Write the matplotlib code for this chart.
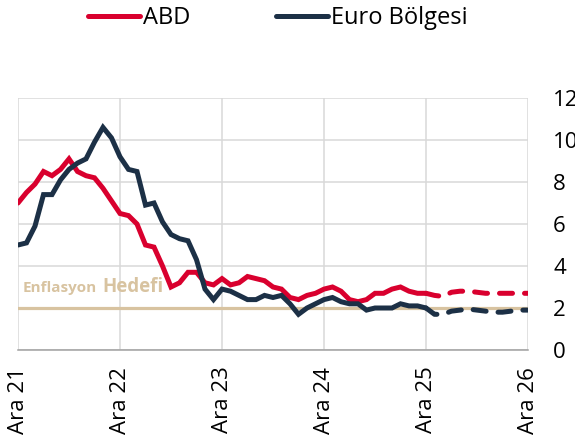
import numpy as np
import matplotlib
matplotlib.use("Agg")
import matplotlib.pyplot as plt

plt.rcParams['font.family'] = ['Open Sans', 'DejaVu Sans']

# aylik yillik enflasyon, Ara 21 - Ara 25 (gerceklesen)
abd = [7.0, 7.5, 7.9, 8.5, 8.3, 8.6, 9.1, 8.5, 8.3, 8.2, 7.7, 7.1, 6.5,
       6.4, 6.0, 5.0, 4.9, 4.0, 3.0, 3.2, 3.7, 3.7, 3.2, 3.1, 3.4,
       3.1, 3.2, 3.5, 3.4, 3.3, 3.0, 2.9, 2.5, 2.4, 2.6, 2.7, 2.9,
       3.0, 2.8, 2.4, 2.3, 2.4, 2.7, 2.7, 2.9, 3.0, 2.8, 2.7, 2.7]
euro = [5.0, 5.1, 5.9, 7.4, 7.4, 8.1, 8.6, 8.9, 9.1, 9.9, 10.6, 10.1, 9.2,
        8.6, 8.5, 6.9, 7.0, 6.1, 5.5, 5.3, 5.2, 4.3, 2.9, 2.4, 2.9,
        2.8, 2.6, 2.4, 2.4, 2.6, 2.5, 2.6, 2.2, 1.7, 2.0, 2.2, 2.4,
        2.5, 2.3, 2.2, 2.2, 1.9, 2.0, 2.0, 2.0, 2.2, 2.1, 2.1, 2.0]
# tahmin, Ara 25 - Ara 26
abd_tahmin = [2.7, 2.6, 2.55, 2.75, 2.8, 2.8, 2.75, 2.7, 2.7, 2.7, 2.7, 2.7, 2.7]
euro_tahmin = [2.0, 1.7, 1.7, 1.85, 1.9, 1.95, 1.9, 1.85, 1.8, 1.8, 1.85, 1.9, 1.9]
hedef = 2.0
etiketler = ['Ara 21', 'Ara 22', 'Ara 23', 'Ara 24', 'Ara 25', 'Ara 26']

kirmizi = '#D9002E'
lacivert = '#1C3046'
bej = '#D8C3A0'

x = np.arange(len(abd))
x_t = np.arange(len(abd) - 1, len(abd) - 1 + len(abd_tahmin))

fig = plt.figure(figsize=(5.75, 4.44), dpi=100)
ax = fig.add_axes([18/575, 94/444, 510/575, 252/444])

ax.axhline(hedef, color=bej, lw=2.3, zorder=2)
l1, = ax.plot(x, abd, color=kirmizi, lw=3.6, solid_capstyle='round',
              solid_joinstyle='miter', label='ABD', zorder=3)
l2, = ax.plot(x, euro, color=lacivert, lw=3.6, solid_capstyle='round',
              solid_joinstyle='miter', label='Euro Bölgesi', zorder=3)
ax.plot(x_t, abd_tahmin, color=kirmizi, lw=3.6, dashes=(2.6, 2.4),
        dash_capstyle='round', zorder=3)
ax.plot(x_t, euro_tahmin, color=lacivert, lw=3.6, dashes=(2.6, 2.4),
        dash_capstyle='round', zorder=3)

ax.text(0.5, 2.78, 'Enflasyon', color=bej, fontsize=11, fontweight='bold')
ax.text(9.9, 2.78, 'Hedefi', color=bej, fontsize=13.5, fontweight='bold')

ax.set_xlim(0, 60)
ax.set_ylim(0, 12)
ax.set_xticks(np.arange(0, 61, 12))
ax.set_xticklabels(etiketler, rotation=90, fontsize=16)
ax.set_yticks(np.arange(0, 13, 2))
ax.yaxis.tick_right()
ax.tick_params(axis='y', length=0, pad=18, labelsize=16)
ax.tick_params(axis='x', length=0, pad=12)
for lab in ax.get_yticklabels():
    lab.set_horizontalalignment('left')
ax.grid(True, color='#D9D9D9', lw=1.1, zorder=0)
ax.set_axisbelow(True)
for s in ['left', 'right', 'top']:
    ax.spines[s].set_visible(False)
ax.spines['bottom'].set_color('#A0A0A0')
ax.spines['bottom'].set_linewidth(1.1)

fig.legend(handles=[l1, l2], loc='center left', bbox_to_anchor=(88/575, 1 - 18/444),
           ncol=2, frameon=False, fontsize=17, handlelength=2.2,
           handletextpad=0.15, columnspacing=3.6, borderpad=0, borderaxespad=0)

fig.savefig('out.png', dpi=100)
